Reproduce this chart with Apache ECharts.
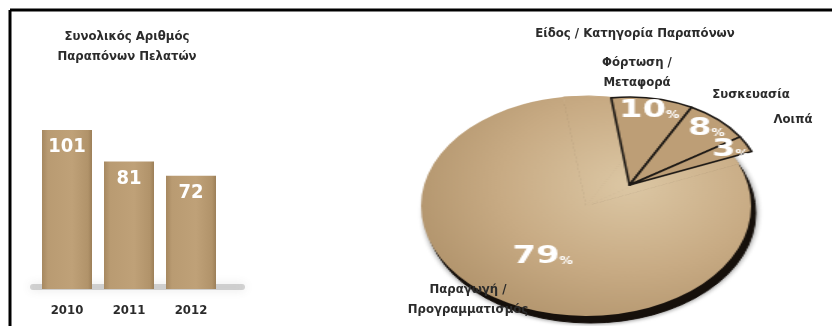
<!DOCTYPE html>
<html><head><meta charset="utf-8">
<script src="https://cdn.jsdelivr.net/npm/echarts@6/dist/echarts.min.js"></script>
<style>
html,body{margin:0;padding:0;background:#fff;}
#main{position:absolute;left:0;top:0;width:832px;height:326px;z-index:2;}
#pie{position:absolute;left:400px;top:0;width:432px;height:326px;transform-origin:186px 206px;transform:scaleX(1.5);z-index:1;}
</style></head>
<body>
<div id="pie"></div>
<div id="main"></div>
<script>
// ---- data ----
const years = ['2010', '2011', '2012'];
const complaints = [101, 81, 72];
const barTitle = 'Συνολικός Αριθμός\nΠαραπόνων Πελατών';
const pieTitle = 'Είδος / Κατηγορία Παραπόνων';
const pieCategories = ['Φόρτωση /\nΜεταφορά', 'Συσκευασία', 'Λοιπά', 'Παραγωγή /\nΠρογραμματισμός'];
const pieShares = [10, 8, 3, 79];

const FAM = '"DejaVu Sans", sans-serif';
const CS = 'condensed';   // font-stretch keyword injected through fontStyle
const TXT = '#2b2b2b';

const main = echarts.init(document.getElementById('main'), null, {renderer: 'canvas'});
const barGrad = new echarts.graphic.LinearGradient(0, 0, 1, 0, [
  {offset: 0, color: '#a68860'}, {offset: 0.12, color: '#b99b72'},
  {offset: 0.6, color: '#bfa178'}, {offset: 0.92, color: '#b1936a'}, {offset: 1, color: '#9c7f58'}
]);
const catLabelPos = [[637, 73], [751, 95], [793, 120], [468, 300]];
main.setOption({
  animation: false,
  title: [
    {text: barTitle, left: 122, top: 22, textAlign: 'center',
     textStyle: {fontFamily: FAM, fontStyle: CS, fontWeight: 'bold', fontSize: 13, color: TXT, lineHeight: 20}},
    {text: pieTitle, left: 630, top: 22, textAlign: 'center',
     textStyle: {fontFamily: FAM, fontStyle: CS, fontWeight: 'bold', fontSize: 13, color: TXT}}
  ],
  grid: {left: 36, top: 130, width: 186, bottom: 37},
  xAxis: {type: 'category', data: years,
    axisLine: {show: false}, axisTick: {show: false},
    axisLabel: {margin: 15, fontFamily: FAM, fontStyle: CS, fontWeight: 'bold', fontSize: 13, color: TXT}},
  yAxis: {type: 'value', min: 0, max: 101, show: false},
  series: [{type: 'bar', data: complaints, barWidth: 50, z: 3,
    itemStyle: {color: barGrad},
    label: {show: true, position: 'insideTop', distance: 7, color: '#fff',
      fontFamily: FAM, fontStyle: CS, fontWeight: 'bold', fontSize: 20}}],
  graphic: [
    {type: 'line', shape: {x1: 10, y1: 10, x2: 832, y2: 10}, style: {stroke: '#000', lineWidth: 3}},
    {type: 'line', shape: {x1: 10, y1: 10, x2: 10, y2: 326}, style: {stroke: '#000', lineWidth: 3}},
    {type: 'rect', z: 1, shape: {x: 30, y: 284, width: 215, height: 6, r: 3},
     style: {fill: 'rgba(120,120,120,0.3)', shadowColor: 'rgba(90,90,90,0.5)', shadowBlur: 10}}
  ].concat(pieCategories.map((c, i) => ({
    type: 'text', x: catLabelPos[i][0], y: catLabelPos[i][1],
    style: {text: c, fill: TXT, font: CS + ' bold 13px ' + FAM, align: 'center', verticalAlign: 'middle', lineHeight: 20}
  })))
});

const pie = echarts.init(document.getElementById('pie'), null, {renderer: 'canvas'});
const baseGrad = new echarts.graphic.RadialGradient(215, 185, 190, [
  {offset: 0, color: '#dcc7a4'}, {offset: 0.45, color: '#c8ab84'}, {offset: 1, color: '#a4865e'}
], true);
const big = pieShares.indexOf(Math.max.apply(null, pieShares));
const START = 98;
const pctRich = {
  v: {fontFamily: FAM, fontStyle: CS, fontWeight: 'bold', fontSize: 25, color: '#fff'},
  p: {fontFamily: FAM, fontStyle: CS, fontWeight: 'bold', fontSize: 10, color: '#fff', padding: [10, 0, 0, 0]}
};
const rimData = pieCategories.map((c, i) => ({name: c, value: pieShares[i]}));
// base ellipse: all shares, the big share carries the label
const baseData = pieCategories.map((c, i) => ({
  name: c, value: pieShares[i], label: {show: i === big},
  itemStyle: {color: baseGrad, borderColor: baseGrad, borderWidth: i === big ? 0 : 1}
}));
// front wedges: the small shares drawn around the apex
const wedgeData = pieCategories.map((c, i) => ({
  name: c, value: pieShares[i],
  itemStyle: i === big ? {color: 'rgba(0,0,0,0)', borderWidth: 0}
                       : {color: '#bd9e76', borderColor: '#1e1a16', borderWidth: 1.6}
}));
const ringData = pieCategories.map((c, i) => ({
  name: c, value: pieShares[i], label: {show: i !== big}
}));
pie.setOption({
  animation: false,
  series: [
    // dark rim under the disc
    {type: 'pie', center: [189, 213], radius: 110, startAngle: START, clockwise: true, silent: true, z: 1,
     data: rimData, label: {show: false}, labelLine: {show: false},
     itemStyle: {color: '#17110c', borderColor: '#17110c', borderWidth: 1,
       shadowColor: 'rgba(0,0,0,0.5)', shadowBlur: 4}},
    {type: 'pie', center: [186, 206], radius: 110, startAngle: START, clockwise: true, silent: true, z: 2,
     avoidLabelOverlap: false,
     data: baseData,
     label: {position: 'inside', formatter: '{v|{c}}{p|%}', rich: pctRich},
     labelLine: {show: false}},
    {type: 'pie', center: [215, 185], radius: 88, startAngle: START, clockwise: true, silent: true, z: 3,
     data: wedgeData, label: {show: false}, labelLine: {show: false}},
    {type: 'pie', center: [215, 185], radius: [58, 88], startAngle: START, clockwise: true, silent: true, z: 5,
     avoidLabelOverlap: false,
     data: ringData,
     itemStyle: {color: 'rgba(0,0,0,0)'},
     label: {position: 'inside', formatter: '{v|{c}}{p|%}', rich: pctRich},
     labelLine: {show: false}, labelLayout: {hideOverlap: false}}
  ]
});
</script>
</body></html>
